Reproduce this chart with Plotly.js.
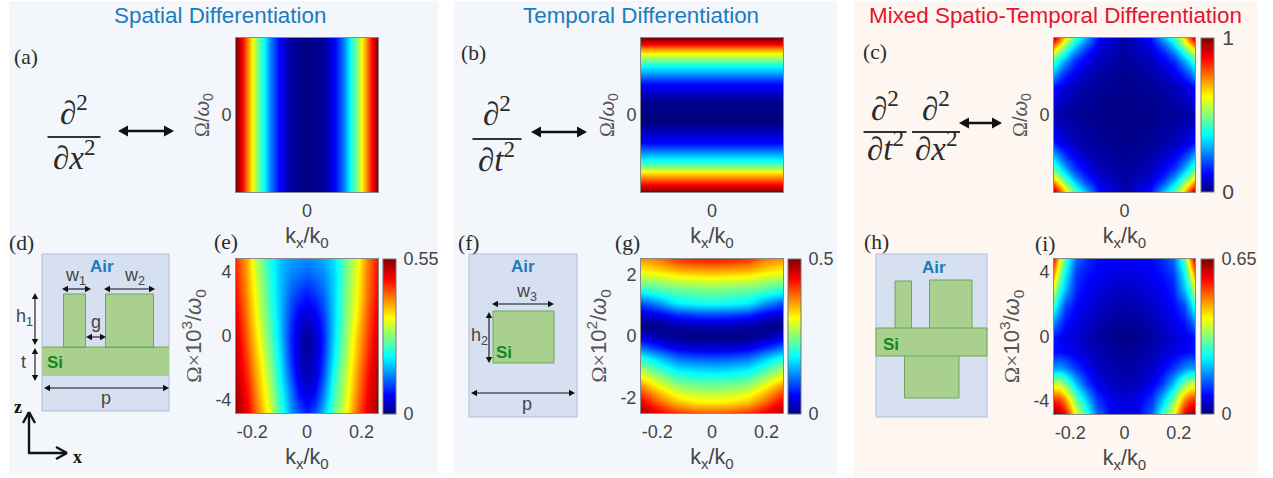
<!DOCTYPE html>
<html><head><meta charset="utf-8">
<script src="https://cdn.plot.ly/plotly-3.0.1.min.js"></script>
<style>html,body{margin:0;padding:0;background:#fff}#c{width:1273px;height:478px}</style></head>
<body><div id="c"></div>
<script>
// ---------- DATA (fractions of each panel's colour-bar maximum) ----------
const maxA = 1, maxB = 1, maxC = 1, maxE = 0.55, maxG = 0.5, maxI = 0.65;

const kxA = [-1,-0.92,-0.84,-0.78,-0.7,-0.61,-0.52,-0.4,-0.24,0,0.24,0.4,0.52,0.61,0.7,0.78,0.84,0.92,1];
const zA  = [1,0.88,0.75,0.63,0.5,0.375,0.25,0.125,0.03,0,0.03,0.125,0.25,0.375,0.5,0.63,0.75,0.88,1];

const omB = [1,0.92,0.866,0.806,0.73,0.634,0.406,0.2,0,-0.1,-0.368,-0.58,-0.67,-0.742,-0.82,-0.906,-1];
const zB  = [1,0.88,0.75,0.63,0.5,0.375,0.125,0.02,0,0.005,0.125,0.375,0.5,0.63,0.75,0.88,1];

const gridC = [-1,-0.9,-0.8,-0.7,-0.56,-0.36,0,0.36,0.56,0.7,0.8,0.9,1];
const zC = [
 [0.93,0.75,0.57,0.43,0.3,0.12,0.04,0.12,0.3,0.43,0.57,0.75,0.93],
 [0.74,0.59,0.45,0.33,0.21,0.095,0.03,0.095,0.21,0.33,0.45,0.59,0.74],
 [0.57,0.45,0.34,0.24,0.15,0.07,0.03,0.07,0.15,0.24,0.34,0.45,0.57],
 [0.44,0.33,0.24,0.16,0.11,0.055,0.022,0.055,0.11,0.16,0.24,0.33,0.44],
 [0.31,0.21,0.15,0.11,0.07,0.035,0.018,0.035,0.07,0.11,0.15,0.21,0.31],
 [0.135,0.095,0.07,0.05,0.035,0.02,0.011,0.02,0.035,0.05,0.07,0.095,0.135],
 [0.045,0.035,0.028,0.022,0.018,0.011,0.005,0.011,0.018,0.022,0.028,0.035,0.045],
 [0.14,0.1,0.075,0.055,0.037,0.022,0.011,0.022,0.037,0.055,0.075,0.1,0.14],
 [0.33,0.23,0.16,0.115,0.075,0.037,0.017,0.037,0.075,0.115,0.16,0.23,0.33],
 [0.47,0.35,0.25,0.17,0.115,0.055,0.022,0.055,0.115,0.17,0.25,0.35,0.47],
 [0.61,0.47,0.36,0.25,0.155,0.075,0.028,0.075,0.155,0.25,0.36,0.47,0.61],
 [0.78,0.62,0.47,0.35,0.22,0.1,0.033,0.1,0.22,0.35,0.47,0.62,0.78],
 [0.95,0.78,0.6,0.45,0.32,0.13,0.05,0.13,0.32,0.45,0.6,0.78,0.95]];

const kxE = [-0.26,-0.22,-0.18,-0.14,-0.1,-0.06,-0.03,0,0.03,0.06,0.1,0.14,0.18,0.22,0.26];
const omE = [4.8,3.6,2.4,1.2,0,-1.2,-2.4,-3.6,-4.8];
const zE = [
 [0.82,0.7,0.52,0.4,0.31,0.28,0.27,0.26,0.27,0.29,0.34,0.47,0.58,0.74,0.86],
 [0.84,0.71,0.55,0.42,0.31,0.24,0.22,0.2,0.22,0.25,0.33,0.47,0.6,0.75,0.87],
 [0.86,0.73,0.57,0.43,0.31,0.2,0.16,0.13,0.16,0.21,0.33,0.48,0.61,0.76,0.88],
 [0.89,0.75,0.59,0.45,0.31,0.17,0.1,0.07,0.1,0.17,0.33,0.49,0.63,0.78,0.9],
 [0.92,0.77,0.62,0.47,0.32,0.15,0.07,0.02,0.07,0.15,0.34,0.5,0.66,0.8,0.92],
 [0.93,0.8,0.65,0.5,0.34,0.16,0.07,0.03,0.07,0.16,0.36,0.52,0.68,0.82,0.93],
 [0.94,0.83,0.68,0.53,0.37,0.19,0.08,0.05,0.08,0.19,0.4,0.55,0.71,0.85,0.95],
 [0.96,0.86,0.71,0.57,0.4,0.24,0.13,0.09,0.13,0.24,0.43,0.57,0.73,0.87,0.96],
 [0.97,0.89,0.74,0.6,0.43,0.27,0.2,0.15,0.2,0.3,0.47,0.6,0.76,0.89,0.97]];

const kxG = [-0.26,-0.195,-0.13,-0.065,0,0.065,0.13,0.195,0.26];
const omG = [2.5,2.14,1.79,1.43,1.07,0.71,0.36,0,-0.36,-0.71,-1.07,-1.43,-1.79,-2.14,-2.5];
const zG = [
 [0.72,0.75,0.82,0.84,0.85,0.84,0.82,0.75,0.72],
 [0.63,0.66,0.7,0.71,0.72,0.71,0.7,0.66,0.63],
 [0.51,0.53,0.56,0.57,0.58,0.57,0.56,0.53,0.51],
 [0.37,0.42,0.45,0.46,0.47,0.46,0.45,0.42,0.37],
 [0.2,0.27,0.36,0.38,0.39,0.38,0.36,0.27,0.2],
 [0.08,0.11,0.17,0.19,0.2,0.19,0.17,0.11,0.08],
 [0,0.01,0.04,0.05,0.06,0.05,0.04,0.01,0],
 [0.08,0.03,0.01,0,0,0,0.01,0.03,0.08],
 [0.22,0.15,0.09,0.075,0.07,0.075,0.09,0.15,0.22],
 [0.4,0.31,0.23,0.21,0.2,0.21,0.23,0.31,0.4],
 [0.53,0.43,0.35,0.33,0.32,0.33,0.35,0.43,0.53],
 [0.66,0.55,0.46,0.44,0.43,0.44,0.46,0.55,0.66],
 [0.79,0.67,0.57,0.54,0.53,0.54,0.57,0.67,0.79],
 [0.89,0.77,0.68,0.64,0.63,0.64,0.68,0.77,0.89],
 [0.97,0.89,0.82,0.79,0.78,0.79,0.82,0.89,0.97]];

const kxI = [-0.26,-0.24,-0.22,-0.18,-0.14,-0.1,-0.05,0,0.05,0.1,0.14,0.18,0.22,0.24,0.26];
const omI = [4.8,3.84,2.88,1.92,0.96,0,-0.96,-1.92,-2.88,-3.84,-4.8];
const zI = [
 [0.85,0.65,0.44,0.22,0.16,0.13,0.12,0.12,0.12,0.13,0.16,0.22,0.44,0.72,0.92],
 [0.7,0.52,0.36,0.17,0.13,0.11,0.09,0.09,0.09,0.11,0.13,0.17,0.36,0.55,0.74],
 [0.56,0.42,0.3,0.15,0.11,0.09,0.07,0.06,0.07,0.09,0.11,0.15,0.3,0.42,0.58],
 [0.42,0.3,0.19,0.12,0.09,0.07,0.05,0.04,0.05,0.07,0.09,0.12,0.19,0.3,0.42],
 [0.27,0.2,0.14,0.1,0.07,0.05,0.03,0.02,0.03,0.05,0.07,0.1,0.14,0.2,0.27],
 [0.14,0.12,0.1,0.08,0.05,0.03,0.015,0.005,0.015,0.03,0.05,0.08,0.1,0.12,0.14],
 [0.13,0.13,0.12,0.09,0.07,0.05,0.03,0.02,0.03,0.05,0.07,0.09,0.12,0.13,0.13],
 [0.27,0.28,0.25,0.17,0.11,0.07,0.04,0.03,0.04,0.07,0.11,0.17,0.25,0.28,0.27],
 [0.56,0.55,0.48,0.3,0.17,0.1,0.06,0.05,0.06,0.1,0.17,0.3,0.48,0.55,0.56],
 [0.82,0.8,0.72,0.47,0.3,0.17,0.1,0.08,0.1,0.17,0.3,0.47,0.72,0.8,0.82],
 [1,0.95,0.88,0.6,0.41,0.22,0.12,0.1,0.12,0.22,0.41,0.6,0.88,0.95,1]];

const ticksK = [-0.2,0,0.2];
const ticksE = [-4,0,4];
const ticksG = [-2,0,2];
const ticksI = [-4,0,4];

// ---------- LAYOUT HELPERS ----------
const W = 1273, H = 478;
const px = x => x / W, py = y => 1 - y / H;
const SANS = 'Liberation Sans, Arial, sans-serif', SERIF = 'Liberation Serif, Times New Roman, serif';
const INK = '#454545', BLUE = '#1c7cbd', RED = '#e6142d', GREEN = '#0f8a22';
const SCHEM_BG = '#d6e0f0', SCHEM_LINE = '#aebdda', SI = '#a9d08e', SI_LINE = '#6fa85a';
const JET = [[0,'#00007f'],[0.12,'#0000ff'],[0.37,'#00ffff'],[0.62,'#ffff00'],[0.87,'#ff0000'],[1,'#7f0000']];

const shapes = [], annotations = [], traces = [], layout = {};

function rect(x0,y0,x1,y1,fill,line,lw){
  shapes.push({type:'rect',xref:'paper',yref:'paper',layer:'below',x0:px(x0),x1:px(x1),y0:py(y1),y1:py(y0),
    fillcolor:fill,line:{color:line||fill,width:lw===undefined?0:lw}});
}
function seg(x0,y0,x1,y1,color,w){
  shapes.push({type:'line',xref:'paper',yref:'paper',x0:px(x0),x1:px(x1),y0:py(y0),y1:py(y1),line:{color:color,width:w}});
}
function txt(x,y,text,size,color,family){
  annotations.push({xref:'paper',yref:'paper',x:px(x),y:py(y),text:text,showarrow:false,xanchor:'center',yanchor:'middle',
    align:'center',font:{size:size,color:color||INK,family:family||SANS}});
}
function head(xt,yt,dx,dy,len,half){
  const bx = xt-dx*len, by = yt-dy*len;
  const a = [bx-dy*half,by+dx*half], b = [bx+dy*half,by-dx*half];
  shapes.push({type:'path',xref:'paper',yref:'paper',
    path:`M ${px(xt)} ${py(yt)} L ${px(a[0])} ${py(a[1])} L ${px(b[0])} ${py(b[1])} Z`,
    fillcolor:'#111',line:{color:'#111',width:0}});
}
function dbl(x0,y0,x1,y1,w,len,half){
  const L = Math.hypot(x1-x0,y1-y0), dx=(x1-x0)/L, dy=(y1-y0)/L;
  seg(x0+dx*len/2,y0+dy*len/2,x1-dx*len/2,y1-dy*len/2,'#111',w);
  head(x1,y1,dx,dy,len,half); head(x0,y0,-dx,-dy,len,half);
}
function chevron(xt,yt,dx,dy,len,half,w){
  const bx = xt-dx*len, by = yt-dy*len;
  seg(xt,yt,bx-dy*half,by+dx*half,'#111',w);
  seg(xt,yt,bx+dy*half,by-dx*half,'#111',w);
}
function frac(cx,top,bottom,lineY,halfW,yTop,yBot){
  txt(cx,yTop,top,33,'#2a2a2a',SERIF);
  txt(cx,yBot,bottom,33,'#2a2a2a',SERIF);
  seg(cx-halfW,lineY,cx+halfW,lineY,'#333',2);
}

const YT_PLAIN = '<span style="font-family:Liberation Serif">Ω</span>/<i>ω</i><sub>0</sub>';
const ytMul = e => '<span style="font-family:Liberation Serif">Ω×</span>10<sup>'+e+'</sup>/<i>ω</i><sub>0</sub>';
const XT = 'k<sub>x</sub>/k<sub>0</sub>';

let axisN = 0;
function panel(box, x, y, z, zmax, xr, yr, xticks, yticks, ytitle, ysize, ystand, cbar, cbSize){
  axisN++;
  const s = axisN === 1 ? '' : axisN;
  const xk = 'xaxis'+s, yk = 'yaxis'+s;
  const tickfont = {size:18,color:INK,family:SANS};
  layout[xk] = {domain:[px(box[0]),px(box[2])],range:xr,anchor:'y'+s,tickvals:xticks,ticktext:xticks.map(String),
    tickfont:tickfont,ticks:'outside',ticklen:2,tickcolor:'rgba(0,0,0,0)',showgrid:false,zeroline:false,showline:true,mirror:true,linecolor:'#8a8a8a',linewidth:1,
    title:{text:XT,standoff:8,font:{size:21.5,color:INK,family:SANS}}};
  layout[yk] = {domain:[py(box[3]),py(box[1])],range:yr,anchor:'x'+s,tickvals:yticks,ticktext:yticks.map(String),
    tickfont:tickfont,ticks:'',showgrid:false,zeroline:false,showline:true,mirror:true,linecolor:'#8a8a8a',linewidth:1,
    title:{text:ytitle,standoff:ystand,font:{size:ysize,color:'#555',family:SANS}}};
  const t = {type:'heatmap',x:x,y:y.slice().reverse(),z:z.slice().reverse().map(r=>r.map(v=>v*zmax)),zmin:0,zmax:zmax,
    zsmooth:'best',colorscale:JET,xaxis:'x'+s,yaxis:'y'+s,showscale:!!cbar,hoverinfo:'skip'};
  if(cbar){
    t.colorbar = {x:px(cbar[0]),xanchor:'left',xref:'paper',xpad:0,thickness:13,thicknessmode:'pixels',
      len:cbar[2]-cbar[1],lenmode:'pixels',y:py((cbar[1]+cbar[2])/2),yref:'paper',yanchor:'middle',ypad:0,
      outlinecolor:'#777',outlinewidth:1,tickvals:[0,zmax],ticktext:['0',String(zmax)],ticks:'outside',ticklen:4,tickcolor:'rgba(0,0,0,0)',
      tickfont:{size:cbSize,color:INK,family:SANS}};
  }
  traces.push(t);
}

// ---------- BACKGROUND PANELS ----------
rect(9,1,438,474,'#f3f6fa');
rect(454,1,837,474,'#f3f6fa');
rect(854,1,1257,476,'#fdf6f1');

// ---------- HEATMAPS ----------
panel([236,38,378,192], kxA, [1,-1], [zA,zA], maxA, [-1,1], [-1,1], [0], [0], YT_PLAIN, 20, 6, null);
panel([641,38,783,192], [-1,1], omB, omB.map((_,i)=>[zB[i],zB[i]]), maxB, [-1,1], [-1,1], [0], [0], YT_PLAIN, 20, 6, null);
panel([1054,38,1195,192], gridC, gridC.slice().reverse(), zC, maxC, [-1,1], [-1,1], [0], [0], YT_PLAIN, 20, 6, [1201,38,192], 21);
panel([236,259,378,413], kxE, omE, zE, maxE, [-0.26,0.26], [-4.8,4.8], ticksK, ticksE, ytMul(3), 22, 7, [383,259,414], 18);
panel([641,259,783,413], kxG, omG, zG, maxG, [-0.26,0.26], [-2.5,2.5], ticksK, ticksG, ytMul(2), 22, 7, [788,259,414], 18);
panel([1054,259,1195,414], kxI, omI, zI, maxI, [-0.26,0.26], [-4.8,4.8], ticksK, ticksI, ytMul(3), 22, 7, [1201,259,414], 18);

// ---------- TITLES & PANEL LETTERS ----------
txt(220,16,'Spatial Differentiation',22.4,BLUE);
txt(641,16,'Temporal Differentiation',22.4,BLUE);
txt(1055,16,'Mixed Spatio-Temporal Differentiation',22.4,RED);
[['(a)',26,57],['(b)',473,53],['(c)',875,52],['(d)',22,243],['(e)',226,242],['(f)',468,243],['(g)',627,243],['(h)',876,242],['(i)',1045,244]]
  .forEach(l=>txt(l[1],l[2],l[0],21.5,'#2a2a2a',SERIF));

// ---------- FORMULAS ----------
const D2 = '<i>∂</i><sup>2</sup>';
frac(74,D2,'<i>∂x</i><sup>2</sup>',137,26.5,110,155);
dbl(118,131,174,131,2.6,10,5.5);
frac(497,D2,'<i>∂t</i><sup>2</sup>',139,24.5,111,157);
dbl(531,132,587,132,2.6,10,5.5);
frac(885,D2,'<i>∂t</i><sup>2</sup>',132,21.5,106,146);
frac(936,D2,'<i>∂x</i><sup>2</sup>',132,24,106,146);
dbl(959,123,1002,123,2.6,10,5.5);

// ---------- SCHEMATIC (d) ----------
rect(42,254,169,411,SCHEM_BG,SCHEM_LINE,1);
rect(42,347,169,376,SI,SI_LINE,0);
rect(63.5,294,85.5,347.5,SI,SI_LINE,1);
rect(105.5,294,153.5,347.5,SI,SI_LINE,1);
seg(42,347,169,347,SI_LINE,1);
txt(102,266,'<b>Air</b>',17,BLUE);
txt(75,276,'w<sub>1</sub>',18);
txt(134,276,'w<sub>2</sub>',18);
dbl(62,289,91,289,1.1,6,3.2);
dbl(104,289,155,289,1.1,6,3.2);
txt(24,317,'h<sub>1</sub>',18);
dbl(35,293,35,345,1.1,6,3.2);
txt(96,322,'g',18);
dbl(86,337,106,337,1.1,6,3.2);
txt(23,362,'t',18);
dbl(35,348,35,381,1.1,6,3.2);
txt(55,362,'<b>Si</b>',17,GREEN);
dbl(44,388,169,388,1.1,6,3.2);
txt(106,398,'p',18);
// axes glyph
txt(18,407,'<b>z</b>',18,'#111',SERIF);
txt(77,457,'<b>x</b>',18,'#111',SERIF);
seg(29,412,29,453,'#111',2.4);
seg(28,453,67,453,'#111',2.4);
chevron(29,412,0,-1,11,6,2.4);
chevron(67,453,1,0,11,6,2.4);

// ---------- SCHEMATIC (f) ----------
rect(469,254,577,417,SCHEM_BG,SCHEM_LINE,1);
rect(493,311,554,363,SI,SI_LINE,1);
txt(523,266,'<b>Air</b>',17,BLUE);
txt(526,292,'w<sub>3</sub>',18);
dbl(492,304,554,304,1.1,6,3.2);
txt(479,336,'h<sub>2</sub>',18);
dbl(489,312,489,363,1.1,6,3.2);
txt(504,352,'<b>Si</b>',17,GREEN);
dbl(471,393,575,393,1.1,6,3.2);
txt(527,404,'p',18);

// ---------- SCHEMATIC (h) ----------
rect(876,254,987,417,SCHEM_BG,SCHEM_LINE,1);
rect(895,281,911.5,329,SI,SI_LINE,1);
rect(929.5,280,972,329,SI,SI_LINE,1);
rect(904.5,355,959,398,SI,SI_LINE,1);
rect(876,328,987,356,SI,SI_LINE,1);
txt(934,267,'<b>Air</b>',17,BLUE);
txt(891,344,'<b>Si</b>',17,GREEN);

Object.assign(layout,{width:W,height:H,margin:{l:0,r:0,t:0,b:0,pad:0},paper_bgcolor:'#ffffff',plot_bgcolor:'rgba(0,0,0,0)',
  showlegend:false,shapes:shapes,annotations:annotations,font:{family:SANS}});
Plotly.newPlot('c',traces,layout,{displayModeBar:false,staticPlot:true});
</script></body></html>
